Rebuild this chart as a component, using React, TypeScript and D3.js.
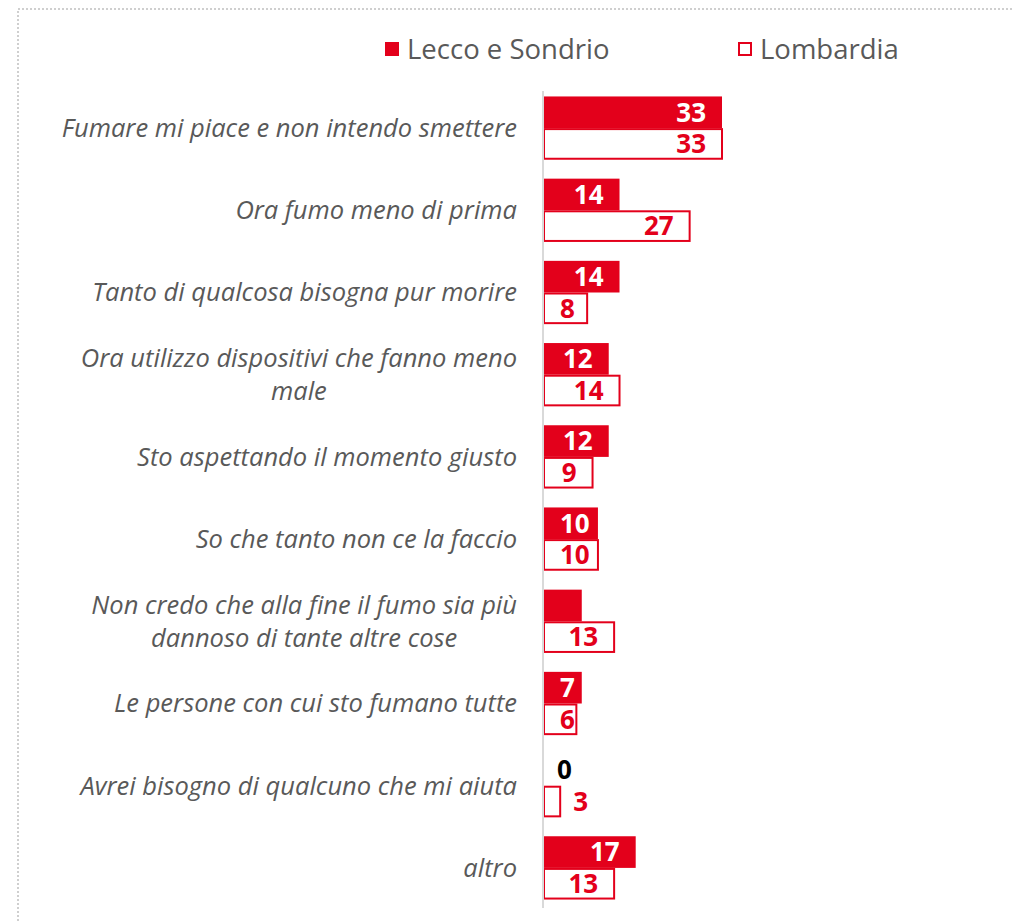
import React, { useRef, useEffect } from "react";
import * as d3 from "d3";

const categories = [
  "Fumare mi piace e non intendo smettere",
  "Ora fumo meno di prima",
  "Tanto di qualcosa bisogna pur morire",
  "Ora utilizzo dispositivi che fanno meno\nmale",
  "Sto aspettando il momento giusto",
  "So che tanto non ce la faccio",
  "Non credo che alla fine il fumo sia più\ndannoso di tante altre cose",
  "Le persone con cui sto fumano tutte",
  "Avrei bisogno di qualcuno che mi aiuta",
  "altro",
];
const lecco = [33, 14, 14, 12, 12, 10, 7, 7, 0, 17];
const lombardia = [33, 27, 8, 14, 9, 10, 13, 6, 3, 13];
// the reference has no data label on this bar
const leccoHiddenLabels = [6];
const seriesNames = ["Lecco e Sondrio", "Lombardia"];

const W = 1013;
const H = 923;
const RED = "#E3001B";
const GRAY = "#595959";

const App = () => {
  const svgRef = useRef<SVGSVGElement>(null);

  useEffect(() => {
    const svg = d3.select(svgRef.current);
    svg.selectAll("*").remove();

    const x0 = 544;
    const x = d3.scaleLinear().domain([0, 33]).range([x0, 722]);
    const y = d3
      .scaleBand()
      .domain(categories)
      .range([87, 909])
      .paddingInner(0.23)
      .paddingOuter(0.115);
    const half = y.bandwidth() / 2;

    // dotted frame
    svg
      .append("rect")
      .attr("x", 18)
      .attr("y", 9)
      .attr("width", W + 20)
      .attr("height", H + 20)
      .attr("fill", "none")
      .attr("stroke", "#cfcfcf")
      .attr("stroke-width", 2)
      .attr("stroke-dasharray", "2 2");

    // legend
    const legend = svg.append("g").attr("font-family", "Open Sans").attr("font-size", 27.5).attr("fill", GRAY);
    const legendX = [385, 738];
    seriesNames.forEach((name, i) => {
      legend
        .append("rect")
        .attr("x", legendX[i] + (i ? 1 : 0))
        .attr("y", 42 + (i ? 1 : 0))
        .attr("width", i ? 12 : 14)
        .attr("height", i ? 12 : 14)
        .attr("fill", i ? "#fff" : RED)
        .attr("stroke", i ? RED : "none")
        .attr("stroke-width", 2);
      legend
        .append("text")
        .attr("x", legendX[i] + 22)
        .attr("y", 59)
        .text(name);
    });

    // bars
    const rows = svg.append("g");
    categories.forEach((c, i) => {
      const top = y(c)!;
      const cy = top + half;
      const hb = half;

      if (lecco[i] > 0) {
        rows
          .append("rect")
          .attr("x", x0)
          .attr("y", top)
          .attr("width", x(lecco[i]) - x0)
          .attr("height", hb)
          .attr("fill", RED);
      }
      rows
        .append("rect")
        .attr("x", x0)
        .attr("y", cy + 1)
        .attr("width", x(lombardia[i]) - x0)
        .attr("height", hb - 2)
        .attr("fill", "#fff")
        .attr("stroke", RED)
        .attr("stroke-width", 2);

      const label = (v: number, yc: number, filled: boolean) => {
        const inside = v >= 5;
        const t = rows
          .append("text")
          .attr("y", yc)
          .attr("dy", "0.36em")
          .attr("font-family", "Open Sans")
          .attr("font-weight", 700)
          .attr("font-size", 26)
          .attr("fill", inside ? (filled ? "#fff" : RED) : filled ? "#000" : RED)
          .text(v);
        const tw = (t.node() as SVGTextElement).getComputedTextLength();
        t.attr("x", inside ? Math.max(x(v) - 16 - tw, x0 + 16) : x(v) + 13);
      };
      if (!leccoHiddenLabels.includes(i)) label(lecco[i], top + hb / 2, true);
      label(lombardia[i], cy + hb / 2, false);
    });

    // axis line
    svg
      .append("line")
      .attr("x1", 543)
      .attr("x2", 543)
      .attr("y1", 91)
      .attr("y2", 908)
      .attr("stroke", "#d9d9d9")
      .attr("stroke-width", 2);

    // category labels
    const labels = svg
      .append("g")
      .attr("font-family", "Open Sans")
      .attr("font-style", "italic")
      .attr("font-size", 25.5)
      .attr("fill", GRAY);
    const lineH = 33;
    categories.forEach((c) => {
      const lines = c.split("\n");
      const cy = y(c)! + half;
      const t = labels.append("text");
      lines.forEach((ln, j) => {
        t.append("tspan")
          .attr("x", 0)
          .attr("y", cy + (j - (lines.length - 1) / 2) * lineH)
          .attr("dy", "0.35em")
          .attr("text-anchor", "middle")
          .text(ln);
      });
      const w = d3.max(t.selectAll<SVGTSpanElement, unknown>("tspan").nodes(), (n) => n.getComputedTextLength()) || 0;
      t.selectAll("tspan").attr("x", 517 - w / 2);
    });
  }, []);

  return (
    <div style={{ position: "absolute", left: 0, top: 0 }}>
      <svg ref={svgRef} width={W} height={H} style={{ display: "block", background: "#fff" }} />
    </div>
  );
};

export default App;
